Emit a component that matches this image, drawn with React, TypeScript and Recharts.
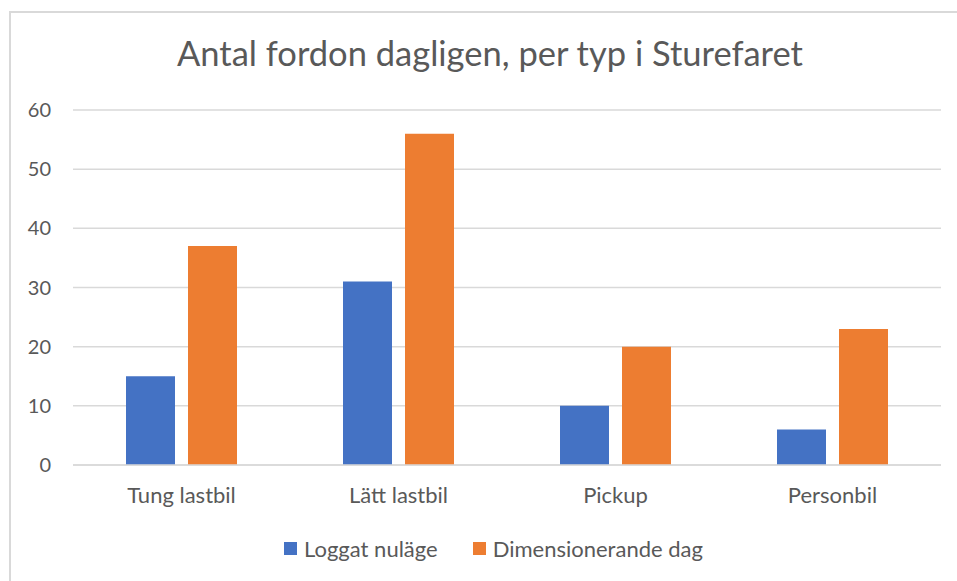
import { BarChart, Bar, XAxis, YAxis, CartesianGrid, Legend } from "recharts"

const categories = ["Tung lastbil", "Lätt lastbil", "Pickup", "Personbil"]
const loggat = [15, 31, 10, 6]
const dimensionerande = [37, 56, 20, 23]
const yTicks = [0, 10, 20, 30, 40, 50, 60]
const seriesNames = ["Loggat nuläge", "Dimensionerande dag"]
const title = "Antal fordon dagligen, per typ i Sturefaret"

const BLUE = "#4472c4"
const ORANGE = "#ed7d31"
const TEXT = "#595959"
const GRID = "#d9d9d9"
const FONT = "Lato, 'Noto Sans', sans-serif"

const data = categories.map((name, i) => ({ name, loggat: loggat[i], dim: dimensionerande[i] }))

function LegendContent() {
  const colors = [BLUE, ORANGE]
  return (
    <div style={{ display: "flex", justifyContent: "center", alignItems: "center", height: 24, fontFamily: FONT, fontSize: 22, color: TEXT, paddingLeft: 7 }}>
      {seriesNames.map((n, i) => (
        <span key={n} style={{ display: "flex", alignItems: "center", marginRight: i === 0 ? 35 : 0 }}>
          <span style={{ display: "inline-block", width: 13, height: 13, background: colors[i], marginRight: 7 }} />
          {n}
        </span>
      ))}
    </div>
  )
}

export default function App() {
  return (
    <div style={{ position: "absolute", left: 0, top: 0, width: 957, height: 581, overflow: "hidden", background: "#fff" }}>
      <div style={{ position: "absolute", left: 9, top: 11, width: 980, height: 600, border: `2px solid ${GRID}`, boxSizing: "border-box" }} />
      <div style={{ position: "absolute", left: 9, top: 36, width: 962, textAlign: "center", fontFamily: FONT, fontSize: 34.5, lineHeight: "34px", color: TEXT }}>
        {title}
      </div>
      <div style={{ position: "absolute", left: 0, top: 0 }}>
        <BarChart width={957} height={581} data={data} margin={{ top: 110, right: 16, bottom: 62, left: 13 }} barSize={49} barGap={13}>
          <CartesianGrid vertical={false} stroke={GRID} strokeWidth={1.5} />
          <XAxis dataKey="name" height={30} axisLine={{ stroke: GRID, strokeWidth: 1.5 }} tickLine={false} tickSize={0} tickMargin={22} tick={{ fill: TEXT, fontSize: 22, fontFamily: FONT }} />
          <YAxis domain={[0, 60]} ticks={yTicks} width={60} axisLine={false} tickLine={false} tickSize={0} tickMargin={22} tick={{ fill: TEXT, fontSize: 20, fontFamily: FONT }} />
          <Legend verticalAlign="bottom" content={<LegendContent />} wrapperStyle={{ left: 0, width: 980, top: 536 }} />
          <Bar dataKey="loggat" name={seriesNames[0]} fill={BLUE} isAnimationActive={false} />
          <Bar dataKey="dim" name={seriesNames[1]} fill={ORANGE} isAnimationActive={false} />
        </BarChart>
      </div>
    </div>
  )
}
